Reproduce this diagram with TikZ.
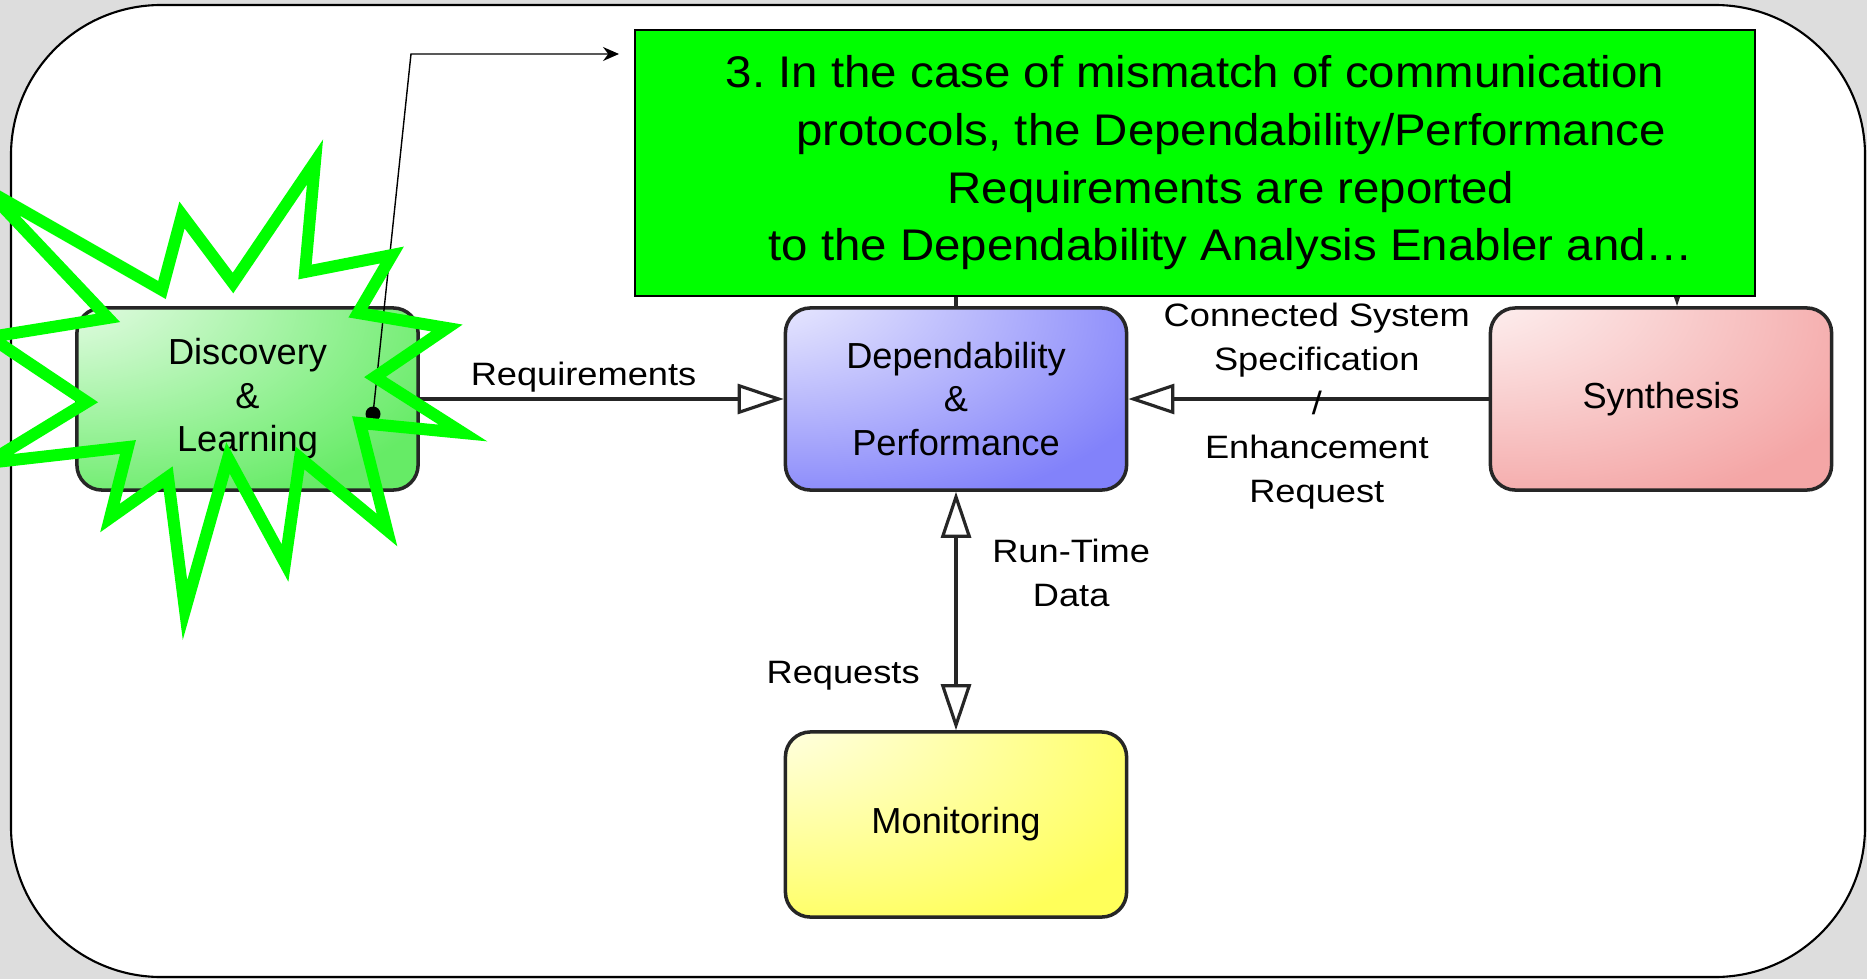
\documentclass[tikz,border=0pt]{standalone}
\usepackage{fontspec}
\setmainfont{Liberation Sans}
\newfontfamily\labelfont{Liberation Sans}[FakeStretch=1.12]
\newfontfamily\notefont{Liberation Sans}[FakeStretch=1.07]
\usetikzlibrary{positioning,arrows.meta}
\frenchspacing
\definecolor{backdrop}{RGB}{221,221,221}
\definecolor{discgreen}{RGB}{102,235,102}
\definecolor{depblue}{RGB}{130,130,250}
\definecolor{synpink}{RGB}{244,166,166}
\definecolor{monyellow}{RGB}{255,255,90}
\definecolor{alert}{RGB}{0,255,0}
\colorlet{glowcolor}{white}
\pgfdeclareradialshading[glowcolor]{glow}{\pgfpoint{-35bp}{37bp}}{color(0bp)=(white); color(50bp)=(glowcolor); color(100bp)=(glowcolor)}
\tikzset{%
  block/.style={draw=black!85, line width=1pt, rounded corners=0.25cm,
    minimum width=3.41cm, minimum height=1.82cm, align=center,
    font=\fontsize{10.3}{12.4}\selectfont},% component box
  glow/.style={shading=glow, /utils/exec={\colorlet{glowcolor}{#1}}},% white to colour
  flow/.style={line width=0.9pt, draw=black!85},% interface arrow
  lbl/.style={align=center, font=\labelfont\fontsize{9.2}{12.5}\selectfont},% arrow text
  note/.style={draw, fill=alert, line width=0.6pt, minimum width=11.19cm,
    minimum height=2.66cm, align=center,
    font=\notefont\fontsize{12.6}{16.4}\selectfont},% callout
  burst/.style={draw=alert, line width=3.4pt, line join=miter}% explosion
}
\begin{document}
\begin{tikzpicture}[x=0.01cm, y=-0.01cm, >={Triangle[open, length=0.46cm, width=0.3cm]}]
\useasboundingbox (0,0) rectangle (1867,979);
\fill[backdrop] (0,0) rectangle (1867,979);
\draw[fill=white, line width=0.6pt, rounded corners=1.5cm] (11,5) rectangle (1865,977);

\node[block, glow=depblue] (dep) at (956,399) {Dependability\\\&\\Performance};
\node[block, glow=synpink] (syn) at (1661,399) {Synthesis};

% runs behind the callout
\draw[flow, ->] (dep.north) -- ++(0,-150) -| ([xshift=0.16cm]syn.north);

\node[note] (note) at (1195,163) {3. In the case of mismatch of communication\\
  \hspace*{0.72cm}protocols, the Dependability/Performance\\
  \hspace*{0.72cm}Requirements are reported\\
  \hspace*{0.72cm}to the Dependability Analysis Enabler and…};

\node[block, glow=discgreen] (disc) at (247.5,399) {Discovery\\\&\\Learning};
\node[block, glow=monyellow, minimum height=1.85cm] (mon) at (956,824.5) {Monitoring};

\draw[flow, ->] (disc) -- node[lbl, pos=0.45, above, inner sep=1.5pt] (req) {Requirements} (dep);
\draw[flow, ->] (syn) -- node[lbl, pos=0.477, yshift=-0.07cm] (spec) {Connected System\\Specification\\/\\Enhancement\\Request} (dep);
\draw[flow, <->] (dep) -- node[lbl, pos=0.34, right=0.23cm] (rtd) {Run-Time\\Data}
  node[lbl, pos=0.77, left=0.23cm] (rq) {Requests} (mon);

% pointer to the callout
\node[circle, fill=black, inner sep=0pt, minimum size=0.15cm] (pin) at (373,414) {};
\coordinate (bend) at (411,54);
\coordinate (aim) at (619,54);
\draw[line width=0.4pt, -{Stealth[length=0.16cm, width=0.14cm]}] (pin.center) -- (bend) -- (aim);

\draw[burst] (315,162) -- (305,272) -- (392,255) -- (358,313) -- (447,328) -- (375,377)
  -- (463,433) -- (360,423) -- (387,530) -- (300,458) -- (285,563) -- (228,458)
  -- (185,610) -- (168,477) -- (110,518) -- (128,447) -- (-13,463) -- (87,402)
  -- (-10,337) -- (108,318) -- (-13,190) -- (162,290) -- (182,215) -- (233,283) -- cycle;
\end{tikzpicture}
\end{document}
